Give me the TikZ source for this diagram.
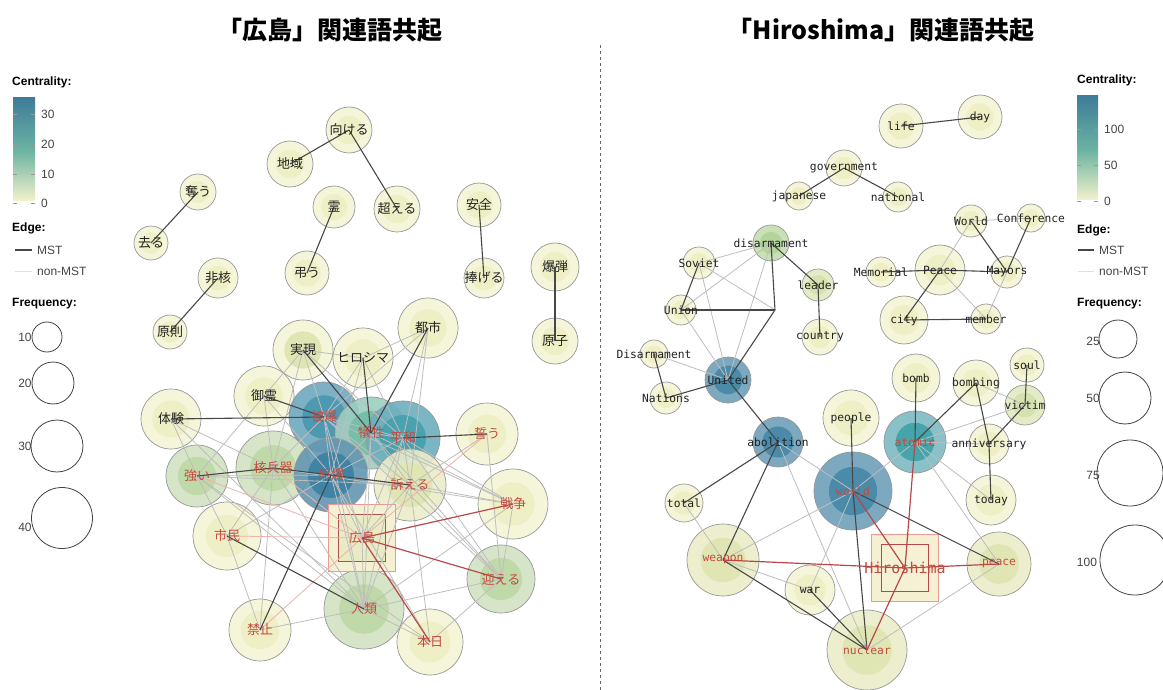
\documentclass[tikz,border=0pt]{standalone}
\usepackage{fontspec}
\setmainfont{Liberation Sans}
\newfontfamily\jp{Noto Sans CJK JP}
\newfontfamily\mono{DejaVu Sans Mono}
\definecolor{ringc}{HTML}{979797}
\definecolor{mstc}{HTML}{474747}
\definecolor{nonc}{HTML}{BEBEBE}
\definecolor{redm}{HTML}{B8474A}
\definecolor{redn}{HTML}{EDB2B0}
\definecolor{labk}{HTML}{222222}
\definecolor{labr}{HTML}{C44A40}
\definecolor{legc}{HTML}{444444}
\definecolor{yo}{HTML}{F4F4D6}
\definecolor{yi}{HTML}{EEEFC4}
\definecolor{lyo}{HTML}{EAEDC9}
\definecolor{lyi}{HTML}{DFE6B4}
\definecolor{go}{HTML}{D2E3C2}
\definecolor{gi}{HTML}{C0D9A9}
\definecolor{hibo}{HTML}{6EA8BE}
\definecolor{hibi}{HTML}{4E99B2}
\definecolor{giso}{HTML}{9CCFC0}
\definecolor{gisi}{HTML}{78BFAA}
\definecolor{heio}{HTML}{6DAFBE}
\definecolor{heii}{HTML}{49A2AE}
\definecolor{geno}{HTML}{6396B2}
\definecolor{geni}{HTML}{3F84A5}
\definecolor{bluo}{HTML}{6E9FBA}
\definecolor{blui}{HTML}{4A8BAA}
\definecolor{atmo}{HTML}{7EBBC3}
\definecolor{atmi}{HTML}{46A4AB}
\definecolor{diso}{HTML}{C5DDB0}
\definecolor{disi}{HTML}{B3D49B}
\definecolor{ldo}{HTML}{E2E9C2}
\definecolor{ldi}{HTML}{D5E1AE}
\definecolor{sqo}{HTML}{F6F0D3}
\definecolor{sqi}{HTML}{E8EBC3}
\definecolor{sqlb}{HTML}{E99A95}
\definecolor{sqdb}{HTML}{A8524C}
\definecolor{barTop}{HTML}{3F7C99}
\definecolor{barMid}{HTML}{6BB3A2}
\definecolor{barLow}{HTML}{C2DDA8}
\definecolor{barBot}{HTML}{F2F2CC}
\newcommand\gn[6]{\node[gnode,fill=#5,minimum size={2*#4pt}] (#1) at (#2,#3) {};
  \fill[#6] (#1.center) circle[radius={0.62*#4pt}];}
\newcommand\gl[3]{\node[#1] (#2-t) at (#2) {#3};}
\begin{document}
\begin{tikzpicture}[x=1pt,y=-1pt,
  gnode/.style={circle,draw=ringc,line width=0.7pt,inner sep=0pt,fill opacity=0.9},
  mst/.style={draw=mstc,line width=1.1pt},
  non/.style={draw=nonc,line width=0.8pt},
  rmst/.style={draw=redm,line width=1.2pt},
  rnon/.style={draw=redn,line width=0.8pt},
  jlab/.style={font=\jp\fontsize{13}{15}\selectfont,text=labk,inner sep=0pt},
  jred/.style={jlab,text=labr},
  elab/.style={font=\mono\fontsize{11.3}{13}\selectfont,text=labk,inner sep=0pt},
  ered/.style={elab,text=labr},
  leg/.style={font=\fontsize{12}{14}\selectfont,text=legc,inner sep=0pt},
  legh/.style={font=\bfseries\fontsize{12}{14}\selectfont,text=black,inner sep=0pt,anchor=west},
  legcirc/.style={draw=legc,line width=0.8pt},
  tick/.style={draw=gray!80,line width=0.8pt}]
\useasboundingbox (0,0) rectangle (1163,690);
\fill[white] (0,0) rectangle (1163,690);

% titles
\node[font=\jp\bfseries\fontsize{25}{28}\selectfont] (t1) at (330,30) {「広島」関連語共起};
\node[font=\jp\bfseries\fontsize{25}{28}\selectfont] (t2) at (881,30) {「Hiroshima」関連語共起};
\draw[draw=gray!80!black,line width=0.8pt,dash pattern=on 3pt off 3pt] (600,45) -- (600,690);

% ---------------- left legend
\node[legh] (lc) at (12,82) {Centrality:};
\shade[top color=barTop,bottom color=barMid] (13,98) rectangle (35,150);
\shade[top color=barMid,middle color=barLow,bottom color=barBot] (13,150) rectangle (35,201);
\foreach \yy/\lab in {114/30,144/20,174/10,203/0}{
  \draw[tick] (13,\yy) -- (17,\yy); \draw[tick] (31,\yy) -- (35,\yy);
  \node[leg,anchor=west] at (41,\yy) {\lab};}
\node[legh] (le) at (12,228) {Edge:};
\draw[mst] (15,250) -- (32,250); \node[leg,anchor=west] at (37,250) {MST};
\draw[draw=gray!25,line width=0.8pt] (15,271) -- (32,271); \node[leg,anchor=west] at (37,271) {non-MST};
\node[legh] (lf) at (12,304) {Frequency:};
\draw[legcirc] (47,337) circle[radius=15pt]; \node[leg] at (25,337) {10};
\draw[legcirc] (53,383) circle[radius=21pt]; \node[leg] at (25,383) {20};
\draw[legcirc] (57,446) circle[radius=26pt]; \node[leg] at (25,446) {30};
\draw[legcirc] (62,518) circle[radius=30.5pt]; \node[leg] at (25,527) {40};

% ---------------- right legend
\node[legh] (rc) at (1077,80) {Centrality:};
\shade[top color=barTop,bottom color=barMid] (1077,96) rectangle (1098,150);
\shade[top color=barMid,middle color=barLow,bottom color=barBot] (1077,150) rectangle (1098,200);
\foreach \yy/\lab in {129/100,165/50,201/0}{
  \draw[tick] (1077,\yy) -- (1081,\yy); \draw[tick] (1094,\yy) -- (1098,\yy);
  \node[leg,anchor=west] at (1104,\yy) {\lab};}
\node[legh] (re) at (1077,230) {Edge:};
\draw[mst] (1078,250) -- (1094,250); \node[leg,anchor=west] at (1099,250) {MST};
\draw[draw=gray!25,line width=0.8pt] (1078,271) -- (1094,271); \node[leg,anchor=west] at (1099,271) {non-MST};
\node[legh] (rf) at (1077,304) {Frequency:};
\draw[legcirc] (1118,339) circle[radius=19pt]; \node[leg] at (1093,341) {25};
\draw[legcirc] (1125,398) circle[radius=26pt]; \node[leg] at (1093,398) {50};
\draw[legcirc] (1130,473) circle[radius=33pt]; \node[leg] at (1093,475) {75};
\draw[legcirc] (1135,560) circle[radius=35pt]; \node[leg] at (1087,562) {100};

% ---------------- left graph nodes
\gn{mukeru}{349}{130}{23}{yo}{yi}
\gn{chiiki}{290}{164}{23}{yo}{yi}
\gn{ubau}{198}{192}{18}{yo}{yi}
\gn{saru}{151}{243}{17}{yo}{yi}
\gn{rei}{334}{207}{21}{yo}{yi}
\gn{koeru}{397}{209}{23}{yo}{yi}
\gn{anzen}{479}{205}{22}{yo}{yi}
\gn{tomurau}{307}{273}{22}{yo}{yi}
\gn{sasageru}{484}{278}{20}{yo}{yi}
\gn{bakudan}{555}{267}{24}{yo}{yi}
\gn{hikaku}{218}{278}{20}{yo}{yi}
\gn{gensoku}{170}{332}{17}{yo}{yi}
\gn{genshi}{555}{341}{23}{yo}{yi}
\gn{toshi}{428}{328}{30}{yo}{yi}
\gn{jitsugen}{303}{350}{30}{yo}{lyi}
\gn{hiroK}{363}{358}{30}{yo}{yi}
\gn{mitama}{264}{396}{30}{yo}{yi}
\gn{taiken}{171}{419}{30}{yo}{yi}
\gn{chikau}{487}{434}{31}{yo}{yi}
\gn{sensou}{513}{504}{35}{yo}{yi}
\gn{shimin}{227}{536}{34}{yo}{yi}
\gn{kinshi}{260}{630}{31}{yo}{yi}
\gn{honjitsu}{430}{642}{33}{yo}{yi}
\gn{mukaeru}{501}{579}{34}{go}{gi}
\gn{jinrui}{364}{609}{40}{go}{gi}
\gn{tsuyoi}{197}{476}{31}{go}{gi}
\gn{kakuheiki}{273}{468}{37}{go}{gi}
\gn{hibaku}{324}{417}{35}{hibo}{hibi}
\gn{gisei}{371}{433}{36}{giso}{gisi}
\gn{heiwa}{403}{438}{37}{heio}{heii}
\gn{genbaku}{331}{475}{37}{geno}{geni}
\gn{uttaeru}{410}{485}{36}{lyo}{lyi}
\node[draw=sqlb,fill=sqo,line width=1.2pt,minimum size=67pt,inner sep=0pt] (hiro) at (362,538) {};
\node[draw=sqdb,fill=sqi,line width=1.6pt,minimum size=47pt,inner sep=0pt] (hiro-in) at (hiro) {};

% left edges
\foreach \a/\b in {jitsugen/hiroK,jitsugen/hibaku,jitsugen/mitama,jitsugen/kakuheiki,jitsugen/heiwa,
  hiroK/hibaku,hiroK/heiwa,hiroK/toshi,hiroK/genbaku,toshi/heiwa,toshi/hibaku,toshi/uttaeru,
  mitama/kakuheiki,mitama/tsuyoi,mitama/genbaku,taiken/tsuyoi,taiken/kakuheiki,taiken/jinrui,
  hibaku/genbaku,hibaku/kakuheiki,hibaku/heiwa,hibaku/uttaeru,gisei/genbaku,gisei/heiwa,gisei/uttaeru,
  gisei/jinrui,heiwa/uttaeru,heiwa/sensou,heiwa/mukaeru,heiwa/jinrui,heiwa/genbaku,chikau/mukaeru,
  chikau/uttaeru,tsuyoi/genbaku,tsuyoi/shimin,tsuyoi/jinrui,tsuyoi/honjitsu,kakuheiki/shimin,
  kakuheiki/jinrui,kakuheiki/kinshi,kakuheiki/uttaeru,genbaku/jinrui,genbaku/honjitsu,genbaku/hiro,
  genbaku/shimin,uttaeru/sensou,uttaeru/mukaeru,uttaeru/jinrui,uttaeru/honjitsu,sensou/mukaeru,
  sensou/jinrui,hibaku/sensou,mukaeru/jinrui,mukaeru/honjitsu,jinrui/kinshi,jinrui/honjitsu,
  jinrui/hiro,shimin/kinshi,hibaku/mukaeru,gisei/mukaeru,gisei/sensou,hiro/uttaeru,hiro/hibaku,
  hiro/gisei,hiro/heiwa,kakuheiki/sensou,hibaku/jinrui,tsuyoi/uttaeru}
  \draw[non] (\a.center) -- (\b.center);
\foreach \a/\b in {hiro/tsuyoi,hiro/shimin,hiro/kinshi,hiro/chikau,hiro/kakuheiki}
  \draw[rnon] (\a.center) -- (\b.center);
\foreach \a/\b in {mukeru/chiiki,mukeru/koeru,ubau/saru,rei/tomurau,anzen/sasageru,bakudan/genshi,
  hikaku/gensoku,taiken/hibaku,mitama/hibaku,jitsugen/gisei,hiroK/gisei,toshi/gisei,heiwa/chikau,
  tsuyoi/kakuheiki,kakuheiki/genbaku,genbaku/uttaeru,genbaku/kinshi,shimin/jinrui}
  \draw[mst] (\a.center) -- (\b.center);
\foreach \a/\b in {hiro/sensou,hiro/mukaeru,hiro/honjitsu}
  \draw[rmst] (\a.center) -- (\b.center);

% left labels
\gl{jlab}{mukeru}{向ける}
\gl{jlab}{chiiki}{地域}
\gl{jlab}{ubau}{奪う}
\gl{jlab}{saru}{去る}
\gl{jlab}{rei}{霊}
\gl{jlab}{koeru}{超える}
\gl{jlab}{anzen}{安全}
\gl{jlab}{tomurau}{弔う}
\gl{jlab}{sasageru}{捧げる}
\gl{jlab}{bakudan}{爆弾}
\gl{jlab}{hikaku}{非核}
\gl{jlab}{gensoku}{原則}
\gl{jlab}{genshi}{原子}
\gl{jlab}{toshi}{都市}
\gl{jlab}{jitsugen}{実現}
\gl{jlab}{hiroK}{ヒロシマ}
\gl{jlab}{mitama}{御霊}
\gl{jlab}{taiken}{体験}
\gl{jred}{chikau}{誓う}
\gl{jred}{sensou}{戦争}
\gl{jred}{shimin}{市民}
\gl{jred}{kinshi}{禁止}
\gl{jred}{honjitsu}{本日}
\gl{jred}{mukaeru}{迎える}
\gl{jred}{jinrui}{人類}
\gl{jred}{tsuyoi}{強い}
\gl{jred}{kakuheiki}{核兵器}
\gl{jred}{hibaku}{被爆}
\gl{jred}{gisei}{犠牲}
\gl{jred}{heiwa}{平和}
\gl{jred}{genbaku}{原爆}
\gl{jred}{uttaeru}{訴える}
\gl{jred}{hiro}{広島}

% ---------------- right graph nodes
\gn{life}{901}{126}{22}{yo}{yi}
\gn{day}{980}{117}{22}{yo}{yi}
\gn{govt}{844}{168}{18}{yo}{yi}
\gn{japanese}{799}{196}{14}{yo}{yi}
\gn{national}{898}{197}{15}{yo}{yi}
\gn{World}{971}{221}{16}{yo}{yi}
\gn{Conference}{1031}{218}{14}{yo}{yi}
\gn{disarm}{771}{243}{18}{diso}{disi}
\gn{Soviet}{699}{263}{16}{yo}{yi}
\gn{leader}{818}{285}{16}{ldo}{ldi}
\gn{Memorial}{881}{272}{15}{yo}{yi}
\gn{Peace}{940}{270}{25}{yo}{yi}
\gn{Mayors}{1007}{272}{16}{yo}{yi}
\gn{Union}{681}{310}{15}{yo}{yi}
\gn{city}{904}{320}{24}{yo}{yi}
\gn{member}{986}{319}{15}{yo}{yi}
\gn{country}{820}{337}{18}{yo}{yi}
\gn{DisarmC}{654}{354}{14}{yo}{yi}
\gn{Nations}{666}{398}{16}{yo}{yi}
\gn{soul}{1027}{365}{17}{yo}{yi}
\gn{bomb}{916}{378}{24}{yo}{yi}
\gn{bombing}{976}{383}{23}{yo}{yi}
\gn{victim}{1025}{405}{20}{ldo}{ldi}
\gn{people}{851}{418}{28}{yo}{yi}
\gn{anniv}{989}{444}{20}{yo}{yi}
\gn{total}{684}{503}{19}{yo}{yi}
\gn{today}{991}{500}{25}{yo}{yi}
\gn{war}{810}{590}{25}{yo}{yi}
\gn{weapon}{723}{560}{36}{lyo}{lyi}
\gn{peace}{999}{564}{32}{lyo}{lyi}
\gn{nuclear}{867}{650}{40}{lyo}{lyi}
\gn{United}{728}{380}{23}{bluo}{blui}
\gn{abolition}{778}{442}{25}{bluo}{blui}
\gn{atomic}{915}{442}{31}{atmo}{atmi}
\gn{world}{853}{491}{39}{bluo}{blui}
\node[draw=sqlb,fill=sqo,line width=1.2pt,minimum size=67pt,inner sep=0pt] (hiroE) at (905,568) {};
\node[draw=redm,fill=sqo!70!yo,line width=1.6pt,minimum size=47pt,inner sep=0pt] (hiroE-in) at (hiroE) {};
\coordinate (junc) at (775,310);

% right edges
\foreach \a/\b in {World/Conference,World/Peace,Peace/member,Mayors/member,disarm/Soviet,disarm/Union,
  disarm/United,Soviet/United,Soviet/junc,Union/United,DisarmC/United,abolition/world,abolition/nuclear,
  world/weapon,world/war,atomic/world,atomic/peace,atomic/today,atomic/victim,bombing/victim,weapon/war,
  weapon/total,peace/nuclear,atomic/anniv}
  \draw[non] (\a.center) -- (\b.center);
\foreach \a/\b in {life/day,govt/japanese,govt/national,World/Mayors,Conference/Mayors,Memorial/Peace,
  Peace/Mayors,Peace/city,city/member,disarm/leader,leader/country,Soviet/Union,Union/junc,disarm/junc,
  junc/United,DisarmC/Nations,Nations/United,United/abolition,abolition/total,abolition/weapon,
  bomb/atomic,bombing/atomic,bombing/anniv,soul/victim,victim/anniv,anniv/today,people/world,
  world/nuclear,world/peace,weapon/nuclear,war/nuclear}
  \draw[mst] (\a.center) -- (\b.center);
\foreach \a/\b in {hiroE/atomic,hiroE/weapon,hiroE/peace,hiroE/nuclear,hiroE/world}
  \draw[rmst] (\a.center) -- (\b.center);

% right labels
\gl{elab}{life}{life}
\gl{elab}{day}{day}
\gl{elab}{govt}{government}
\gl{elab}{japanese}{japanese}
\gl{elab}{national}{national}
\gl{elab}{World}{World}
\gl{elab}{Conference}{Conference}
\gl{elab}{disarm}{disarmament}
\gl{elab}{Soviet}{Soviet}
\gl{elab}{leader}{leader}
\gl{elab}{Memorial}{Memorial}
\gl{elab}{Peace}{Peace}
\gl{elab}{Mayors}{Mayors}
\gl{elab}{Union}{Union}
\gl{elab}{city}{city}
\gl{elab}{member}{member}
\gl{elab}{country}{country}
\gl{elab}{DisarmC}{Disarmament}
\gl{elab}{Nations}{Nations}
\gl{elab}{soul}{soul}
\gl{elab}{bomb}{bomb}
\gl{elab}{bombing}{bombing}
\gl{elab}{victim}{victim}
\gl{elab}{people}{people}
\gl{elab}{anniv}{anniversary}
\gl{elab}{total}{total}
\gl{elab}{today}{today}
\gl{elab}{war}{war}
\gl{elab}{United}{United}
\gl{elab}{abolition}{abolition}
\gl{ered}{atomic}{atomic}
\gl{ered}{world}{world}
\gl{ered}{weapon}{weapon}
\gl{ered}{peace}{peace}
\gl{ered}{nuclear}{nuclear}
\node[ered,font=\mono\fontsize{15}{17}\selectfont] (hiroE-t) at (hiroE) {Hiroshima};
\end{tikzpicture}
\end{document}
